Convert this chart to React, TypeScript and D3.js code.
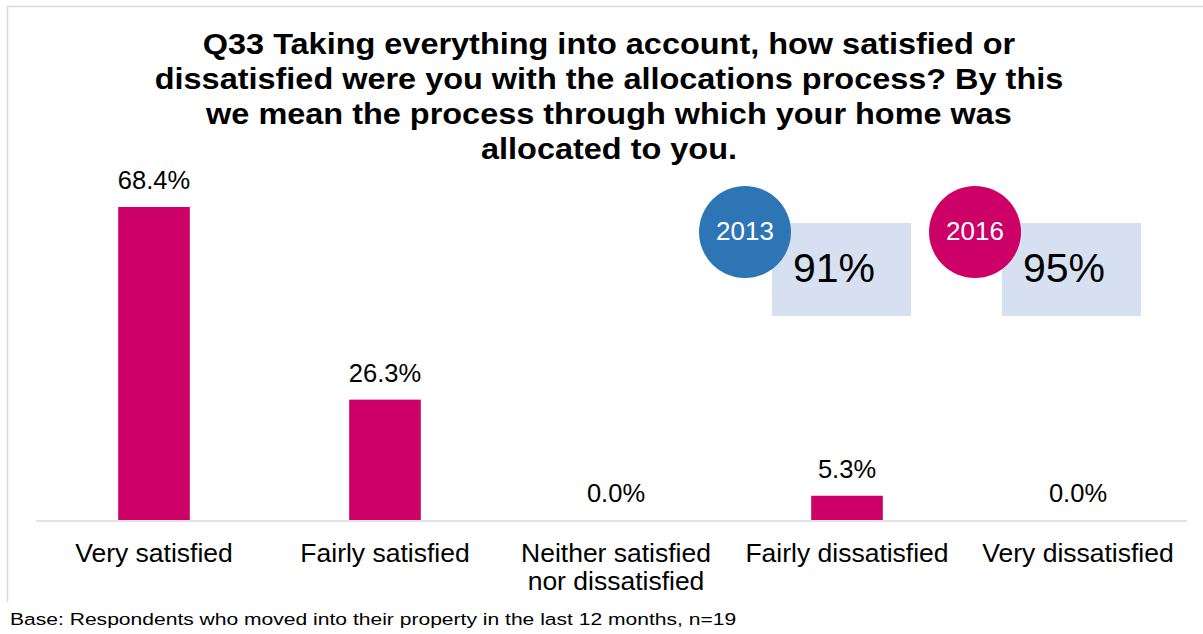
import { useRef, useEffect } from 'react';
import { select, scaleBand, scaleLinear } from 'd3';

// Chart data
const categories = [
    ['Very satisfied'],
    ['Fairly satisfied'],
    ['Neither satisfied', 'nor dissatisfied'],
    ['Fairly dissatisfied'],
    ['Very dissatisfied'],
];
const values = [68.4, 26.3, 0.0, 5.3, 0.0];
const summaryYears = ['2013', '2016'];
const summaryValues = [91, 95];
const titleLines = [
    'Q33 Taking everything into account, how satisfied or',
    'dissatisfied were you with the allocations process? By this',
    'we mean the process through which your home was',
    'allocated to you.',
];
const footnote = 'Base: Respondents who moved into their property in the last 12 months, n=19';

function App() {
    const graphRef = useRef<SVGSVGElement | null>(null);

    // Dimensions
    const width = 1203;
    const height = 634;
    const baseline = 520;
    const font = '"Liberation Sans", Arial, sans-serif';

    // Scales
    const x = scaleBand<number>()
        .domain(values.map((d, i) => i))
        .range([38.5, 1193.5])
        .paddingInner(0.69)
        .paddingOuter(0.345);
    const y = scaleLinear().domain([0, 68.4]).range([baseline, 207]);

    useEffect(() => {
        const svg = select(graphRef.current);
        svg.selectAll('*').remove();

        svg.append('rect').attr('width', width).attr('height', height).attr('fill', '#fff');

        // Frame (top and left visible)
        svg.append('path')
            .attr('d', `M7.5,602 V6.5 H${width}`)
            .attr('fill', 'none')
            .attr('stroke', '#d9d9d9')
            .attr('stroke-width', 1.5);

        // Title (slightly widened like the original rendering)
        svg.append('g')
            .attr('transform', 'translate(609, 0) scale(1.1, 1)')
            .selectAll('text')
            .data(titleLines)
            .join('text')
            .attr('x', 0)
            .attr('y', (d, i) => 54 + i * 35)
            .attr('text-anchor', 'middle')
            .style('font-family', font)
            .style('font-weight', 'bold')
            .style('font-size', '29.5px')
            .attr('fill', '#000')
            .text((d) => d);

        // Bars
        svg.append('g')
            .selectAll('rect')
            .data(values)
            .join('rect')
            .attr('x', (d, i) => x(i)!)
            .attr('y', (d) => y(d))
            .attr('width', x.bandwidth())
            .attr('height', (d) => baseline - y(d))
            .attr('fill', '#CC0066');

        // Axis line
        svg.append('line')
            .attr('x1', 36)
            .attr('x2', 1187)
            .attr('y1', baseline + 1)
            .attr('y2', baseline + 1)
            .attr('stroke', '#d9d9d9')
            .attr('stroke-width', 1.5);

        // Value labels
        svg.append('g')
            .selectAll('text')
            .data(values)
            .join('text')
            .attr('x', (d, i) => x(i)! + x.bandwidth() / 2)
            .attr('y', (d) => y(d) - 18)
            .attr('text-anchor', 'middle')
            .style('font-family', font)
            .style('font-size', '25.5px')
            .attr('fill', '#000')
            .text((d) => `${d.toFixed(1)}%`);

        // Category labels
        const cat = svg.append('g')
            .selectAll('g')
            .data(categories)
            .join('g')
            .attr('transform', (d, i) => `translate(${x(i)! + x.bandwidth() / 2}, 0) scale(1.06, 1)`);
        cat.each(function (lines) {
            select(this)
                .selectAll('text')
                .data(lines)
                .join('text')
                .attr('x', 0)
                .attr('y', (d, j) => 562 + j * 28)
                .attr('text-anchor', 'middle')
                .style('font-family', font)
                .style('font-size', '25px')
                .attr('fill', '#000')
                .text((d) => d);
        });

        // Summary boxes
        const circleColors = ['#2E75B6', '#CC0066'];
        const boxes = svg.append('g')
            .selectAll('g')
            .data(summaryValues)
            .join('g')
            .attr('transform', (d, i) => `translate(${i * 230}, 0)`);
        boxes.append('rect')
            .attr('x', 772)
            .attr('y', 223)
            .attr('width', 139)
            .attr('height', 93)
            .attr('fill', '#D6E0F0');
        boxes.append('circle')
            .attr('cx', 745)
            .attr('cy', 232)
            .attr('r', 46)
            .attr('fill', (d, i) => circleColors[i]);
        boxes.append('text')
            .attr('x', 745)
            .attr('y', 240)
            .attr('text-anchor', 'middle')
            .style('font-family', font)
            .style('font-size', '26px')
            .attr('fill', '#fff')
            .text((d, i) => summaryYears[i]);
        boxes.append('text')
            .attr('x', 834)
            .attr('y', 282)
            .attr('text-anchor', 'middle')
            .style('font-family', font)
            .style('font-size', '41px')
            .attr('fill', '#000')
            .text((d) => `${d}%`);

        // Footnote
        svg.append('text')
            .attr('transform', 'translate(10, 625) scale(1.24, 1)')
            .style('font-family', font)
            .style('font-size', '17px')
            .attr('fill', '#000')
            .text(footnote);
    }, []);

    return (
        <svg
            ref={graphRef}
            width={width}
            height={height}
            style={{ position: 'absolute', left: 0, top: 0, display: 'block' }}
        ></svg>
    );
}

export default App;
